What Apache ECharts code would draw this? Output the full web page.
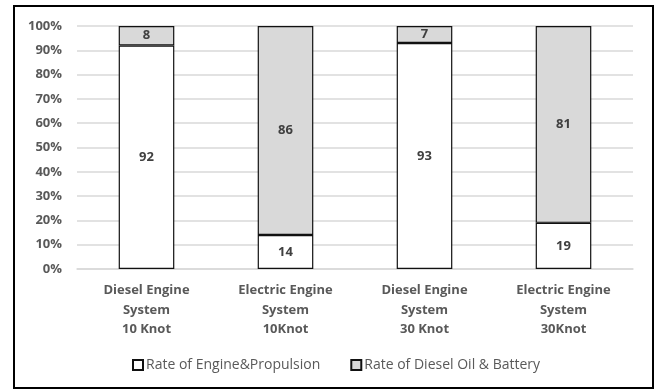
<!DOCTYPE html>
<html>
<head>
<meta charset="utf-8">
<script src="https://cdn.jsdelivr.net/npm/echarts@6/dist/echarts.min.js"></script>
<style>
  html, body { margin: 0; padding: 0; background: #fff; }
  #chart { width: 659px; height: 390px; }
</style>
</head>
<body>
<div id="chart"></div>
<script>
// Share of each propulsion setup, in percent
const categories = [
  'Diesel Engine\nSystem\n10 Knot',
  'Electric Engine\nSystem\n10Knot',
  'Diesel Engine\nSystem\n30 Knot',
  'Electric Engine\nSystem\n30Knot'
];
const seriesNames = ['Rate of Engine&Propulsion', 'Rate of Diesel Oil & Battery'];
const enginePropulsion = [92, 14, 93, 19];
const dieselOilBattery = [8, 86, 7, 81];
const yTicks = [0, 10, 20, 30, 40, 50, 60, 70, 80, 90, 100];

const font = '"Open Sans", "Liberation Sans", sans-serif';

const chart = echarts.init(document.getElementById('chart'), null, { renderer: 'canvas' });

function barSeries(name, data, fill) {
  return {
    name: name,
    type: 'bar',
    stack: 'total',
    data: data,
    barWidth: '40%',
    itemStyle: { color: fill, borderColor: '#111', borderWidth: 1.2 },
    label: {
      show: true,
      position: 'inside',
      color: '#404040',
      fontWeight: 'bold',
      fontSize: 13,
      fontFamily: font
    },
    emphasis: { disabled: true }
  };
}

chart.setOption({
  animation: false,
  backgroundColor: '#fff',
  graphic: [{
    type: 'rect',
    shape: { x: 14, y: 6, width: 639, height: 382 },
    style: { fill: 'none', stroke: '#000', lineWidth: 2 },
    silent: true
  }],
  grid: { left: 77, right: 26, top: 26, bottom: 121 },
  legend: {
    bottom: 13,
    left: 127,
    itemGap: 30,
    itemWidth: 10,
    itemHeight: 10,
    icon: 'rect',
    textStyle: { color: '#595959', fontSize: 14, fontFamily: font, padding: [0, 0, 0, -2] },
    data: seriesNames
  },
  xAxis: {
    type: 'category',
    data: categories,
    axisLine: { show: true, lineStyle: { color: '#d9d9d9', width: 1.5 } },
    axisTick: { show: false },
    axisLabel: {
      color: '#595959',
      fontWeight: 'bold',
      fontSize: 13,
      fontFamily: font,
      lineHeight: 19.5,
      margin: 12,
      interval: 0
    }
  },
  yAxis: {
    type: 'value',
    min: 0,
    max: 100,
    interval: 10,
    axisLine: { show: false },
    axisTick: { show: false },
    splitLine: { lineStyle: { color: '#d9d9d9', width: 1.5 } },
    axisLabel: {
      color: '#595959',
      fontWeight: 'bold',
      fontSize: 13,
      fontFamily: font,
      margin: 15,
      formatter: v => (yTicks.includes(v) ? v + '%' : '')
    }
  },
  series: [
    barSeries(seriesNames[0], enginePropulsion, '#ffffff'),
    barSeries(seriesNames[1], dieselOilBattery, '#d9d9d9')
  ]
});
</script>
</body>
</html>
